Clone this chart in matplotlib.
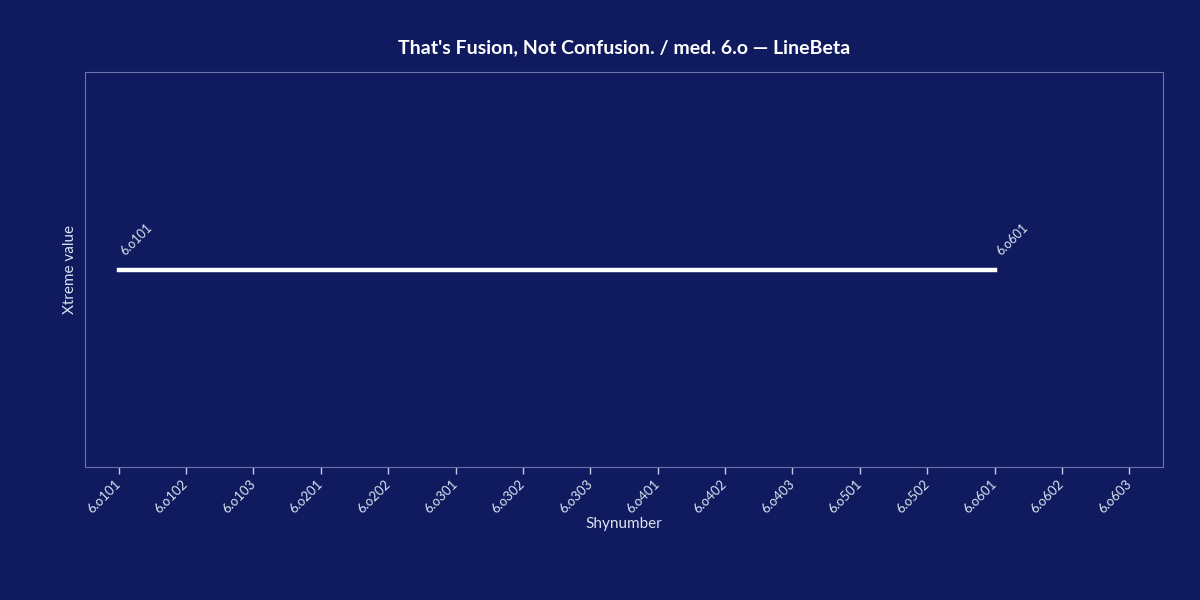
import matplotlib
matplotlib.use("Agg")
import matplotlib.pyplot as plt

categories = ["6.o101", "6.o102", "6.o103", "6.o201", "6.o202", "6.o301", "6.o302",
              "6.o303", "6.o401", "6.o402", "6.o403", "6.o501", "6.o502", "6.o601",
              "6.o602", "6.o603"]
line_x = ["6.o101", "6.o601"]
line_y = [6.0, 6.0]

BG = "#0F1B5E"
FG = "#FFFFFF"
SPINE = "#6A74A8"
TICKMARK = "#C4CBE6"
TICK = "#DDE2F2"

plt.rcParams['font.family'] = ['Lato', 'DejaVu Sans']

fig = plt.figure(figsize=(12, 6), dpi=100, facecolor=BG)
ax = fig.add_axes([85/1200, 1-467/600, (1163-85)/1200, (467-72)/600])
ax.set_facecolor(BG)

xpos = [categories.index(c) for c in line_x]
ax.plot(xpos, line_y, color=FG, linewidth=3.2, solid_capstyle='projecting')
for x, y, lab in zip(xpos, line_y, line_x):
    ax.annotate(lab, (x, y), xytext=(6, 9), textcoords='offset points',
                rotation=45, ha='left', va='bottom', color=TICK, fontsize=9,
                rotation_mode='anchor')

ax.set_xlim(-0.5, len(categories) - 0.5)
ax.set_ylim(line_y[0] - 1.0, line_y[0] + 1.0)
ax.set_xticks(range(len(categories)))
ax.set_xticklabels(categories, rotation=45, ha='right', va='center',
                   rotation_mode='anchor', color=TICK, fontsize=9.5)
ax.set_yticks([])
ax.tick_params(axis='x', colors=TICKMARK, labelcolor=TICK, length=5, width=1, pad=6)
for s in ax.spines.values():
    s.set_color(SPINE)
    s.set_linewidth(0.8)

ax.set_xlabel("Shynumber", color=TICK, fontsize=11, labelpad=1)
ax.set_ylabel("Xtreme value", color=TICK, fontsize=11, labelpad=6)
fig.text(0.52, 1-48/600, "That's Fusion, Not Confusion. / med. 6.o \u2014 LineBeta",
         ha='center', va='center', color=FG, fontsize=14, fontweight='bold')

fig.savefig("out.png", dpi=100, facecolor=BG)
